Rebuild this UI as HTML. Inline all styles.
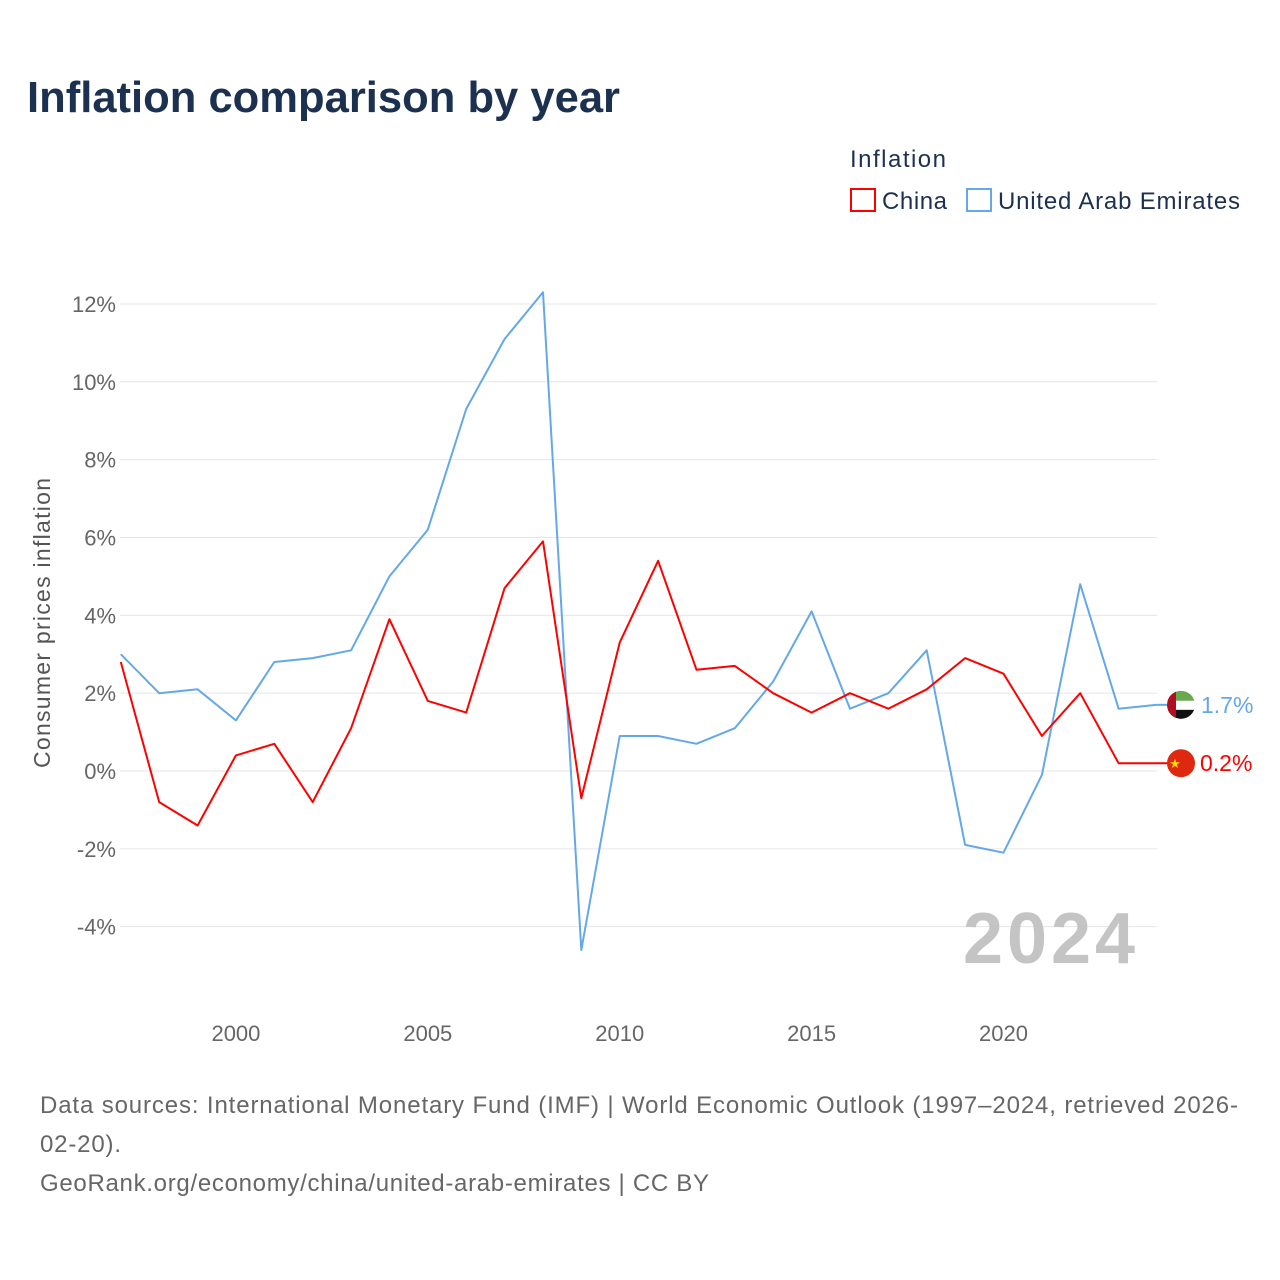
<!DOCTYPE html>
<html><head><meta charset="utf-8">
<style>
body{margin:0;background:#fff;font-family:"Liberation Sans",sans-serif;}
#wrap{position:relative;width:1280px;height:1280px;overflow:hidden;}
</style></head>
<body>
<div id="wrap">
<svg id="chart" width="1280" height="1280" xmlns="http://www.w3.org/2000/svg">
<text x="27" y="112" font-size="44" font-weight="bold" fill="#1c3050" textLength="593" lengthAdjust="spacingAndGlyphs">Inflation comparison by year</text>
<text x="850" y="167" font-size="24" fill="#1c3050" textLength="96">Inflation</text>
<g>
<rect x="851" y="189" width="24" height="22" fill="none" stroke="#f00" stroke-width="2"/>
<text x="882" y="209" font-size="24" fill="#1c3050" textLength="65">China</text>
</g>
<g>
<rect x="967" y="189" width="24" height="22" fill="none" stroke="#64a8ea" stroke-width="2"/>
<text x="998" y="209" font-size="24" fill="#1c3050" textLength="242">United Arab Emirates</text>
</g>
<text transform="translate(50,623) rotate(-90)" text-anchor="middle" font-size="23" fill="#555" textLength="290">Consumer prices inflation</text>
<g id="grid"></g><g id="yticks"></g><g id="xticks"></g>
<text x="1135" y="963" text-anchor="end" font-size="72" font-weight="bold" fill="#c4c4c4" textLength="172">2024</text>
<g id="lines"></g>
<text x="40" y="1113" font-size="24" fill="#666" textLength="1198">Data sources: International Monetary Fund (IMF) | World Economic Outlook (1997–2024, retrieved 2026-</text>
<text x="40" y="1152" font-size="24" fill="#666" textLength="81">02-20).</text>
<text x="40" y="1191" font-size="24" fill="#666" textLength="669">GeoRank.org/economy/china/united-arab-emirates | CC BY</text>
</svg>
</div>
<script>
const years=[1997,1998,1999,2000,2001,2002,2003,2004,2005,2006,2007,2008,2009,2010,2011,2012,2013,2014,2015,2016,2017,2018,2019,2020,2021,2022,2023,2024];
const chinaValues=[2.8,-0.8,-1.4,0.4,0.7,-0.8,1.1,3.9,1.8,1.5,4.7,5.9,-0.7,3.3,5.4,2.6,2.7,2.0,1.5,2.0,1.6,2.1,2.9,2.5,0.9,2.0,0.2,0.2];
const uaeValues=[3.0,2.0,2.1,1.3,2.8,2.9,3.1,5.0,6.2,9.3,11.1,12.3,-4.6,0.9,0.9,0.7,1.1,2.3,4.1,1.6,2.0,3.1,-1.9,-2.1,-0.1,4.8,1.6,1.7];
const yTicks=[-4,-2,0,2,4,6,8,10,12];
const xTicks=[2000,2005,2010,2015,2020];
const NS="http://www.w3.org/2000/svg";
function X(y){return 120.8+(y-1997)*(1157-120.8)/27;}
function Y(v){return 771-v*38.92;}
function mk(tag,attrs,parent){const e=document.createElementNS(NS,tag);for(const k in attrs)e.setAttribute(k,attrs[k]);parent.appendChild(e);return e;}
const grid=document.getElementById('grid'),yt=document.getElementById('yticks'),xt=document.getElementById('xticks'),lines=document.getElementById('lines');
yTicks.forEach(v=>{
 const l=mk('line',{x1:120,x2:1157,y1:Y(v),y2:Y(v),stroke:'#e6e6e6','stroke-width':1},grid);
 
 
 const t=mk('text',{x:116,y:Y(v)+8,'text-anchor':'end','font-size':22,fill:'#666'},yt);
 t.textContent=v+'%';
 
 
});
xTicks.forEach(y=>{
 const t=mk('text',{x:X(y),y:1041,'text-anchor':'middle','font-size':22,fill:'#666'},xt);
 t.textContent=y;
 
 
});
function series(vals,color,name){
 const d=vals.map((v,i)=>(i?'L':'M')+X(years[i]).toFixed(1)+','+Y(v).toFixed(1)).join(' ');
 const p=mk('path',{d:d,fill:'none',stroke:color,'stroke-width':2,'stroke-linejoin':'round'},lines);
 
 
 const last=vals[vals.length-1];
 mk('line',{x1:1157,x2:1168,y1:Y(last),y2:Y(last),stroke:color,'stroke-width':2},lines);
}
series(uaeValues,'#64a8ea','uae-line');
series(chinaValues,'#f00','china-line');
const uL=uaeValues[uaeValues.length-1],cL=chinaValues[chinaValues.length-1];
const uy=Y(uL),cy=Y(cL);
const fu=mk('g',{},lines);


const cp=mk('clipPath',{id:'cu'},fu);
mk('circle',{cx:1181,cy:uy,r:14},cp);
const gu=mk('g',{'clip-path':'url(#cu)'},fu);
mk('rect',{x:1167,y:uy-14,width:28,height:10,fill:'#6aa84f'},gu);
mk('rect',{x:1167,y:uy-4,width:28,height:9,fill:'#fff'},gu);
mk('rect',{x:1167,y:uy+5,width:28,height:10,fill:'#111'},gu);
mk('rect',{x:1167,y:uy-14,width:9,height:28,fill:'#b01020'},gu);
const tu=mk('text',{x:1201,y:uy+8,'font-size':23,fill:'#64a8ea'},lines);
tu.textContent=uL.toFixed(1)+'%';


const fc=mk('g',{},lines);


mk('circle',{cx:1181,cy:cy,r:14,fill:'#de2910'},fc);
const st=mk('text',{x:1175,y:cy+5,'font-size':13,fill:'#ffde00','text-anchor':'middle'},fc);st.textContent='★';
const tc=mk('text',{x:1200,y:cy+8,'font-size':23,fill:'#f00'},lines);
tc.textContent=cL.toFixed(1)+'%';


</script>
</body></html>
